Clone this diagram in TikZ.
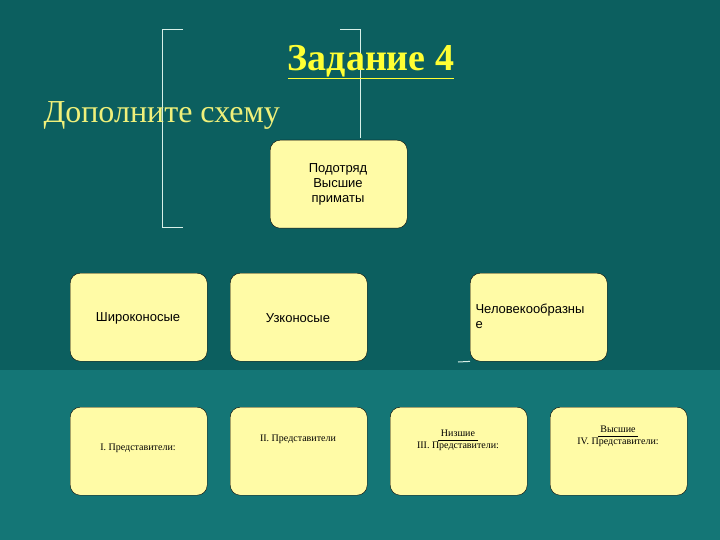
\documentclass[tikz,border=0pt]{standalone}
\usepackage{fontspec}
\setmainfont{Liberation Serif}
\newfontfamily\arialf{Liberation Sans}
\definecolor{bgtop}{HTML}{0C5F5F}
\definecolor{bgbot}{HTML}{147676}
\definecolor{boxfill}{HTML}{FFFBA6}
\definecolor{ttl}{HTML}{FFFF33}
\definecolor{sub}{HTML}{F0F07A}
\definecolor{brk}{HTML}{D8F0E8}
\begin{document}
\begin{tikzpicture}[x=1pt,y=-1pt,
  bx/.style={draw=black,fill=boxfill,rounded corners=10pt,minimum width=137pt,minimum height=88pt,anchor=north west,inner sep=0pt},
  sbox/.style={bx,font=\arialf\fontsize{13}{15}\selectfont,align=center},
  rbox/.style={bx,font=\fontsize{10}{12}\selectfont,align=center},
  brl/.style={draw=brk,line width=1pt}]
\fill[bgtop] (0,0) rectangle (720,540);
\fill[bgbot] (0,370) rectangle (720,540);
\useasboundingbox (0,0) rectangle (720,540);
% brackets
\draw[brl] (183,30) -- (162,30) -- (162,228) -- (183,228);
\draw[brl] (340,30) -- (360,30) -- (360,138);
% title
\node[ttl,font=\bfseries\fontsize{38}{44}\selectfont] (title) at (371,62) {\underline{Задание 4}};
\node[sub,font=\fontsize{32}{38}\selectfont,anchor=west] (subt) at (40,115) {Дополните схему};
% boxes
\node[sbox] (top) at (270,140) {};
\node[font=\arialf\fontsize{13}{15}\selectfont,align=center] (topt) at (338,184) {Подотряд\\Высшие\\приматы};
\node[sbox] (b1) at (70,273) {};
\node[font=\arialf\fontsize{13}{15}\selectfont] (b1t) at (138,318) {Широконосые};
\node[sbox] (b2) at (230,273) {};
\node[font=\arialf\fontsize{13}{15}\selectfont] (b2t) at (298,318) {Узконосые};
\node[sbox] (b3) at (470,273) {};
\node[font=\arialf\fontsize{13}{15}\selectfont,align=left,anchor=north west] (b3t) at (472,300) {Человекообразны\\е};
\draw[brk,line width=1pt] (458,362) -- (b3.south west);
\node[rbox] (c1) at (70,407) {};
\node[font=\fontsize{10}{12}\selectfont] (c1t) at (138,448) {I. Представители:};
\node[rbox] (c2) at (230,407) {};
\node[font=\fontsize{10}{12}\selectfont] (c2t) at (298,439) {II. Представители};
\node[rbox] (c3) at (390,407) {};
\node[font=\fontsize{10}{12}\selectfont,align=center] (c3t) at (458,440) {Низшие\\III. Представители:};
\draw[line width=1pt] (438,440) -- (478,440);
\node[rbox] (c4) at (550,407) {};
\node[font=\fontsize{10}{12}\selectfont,align=center] (c4t) at (618,436) {Высшие\\IV. Представители:};
\draw[line width=1pt] (598,436) -- (638,436);
\end{tikzpicture}
\end{document}
